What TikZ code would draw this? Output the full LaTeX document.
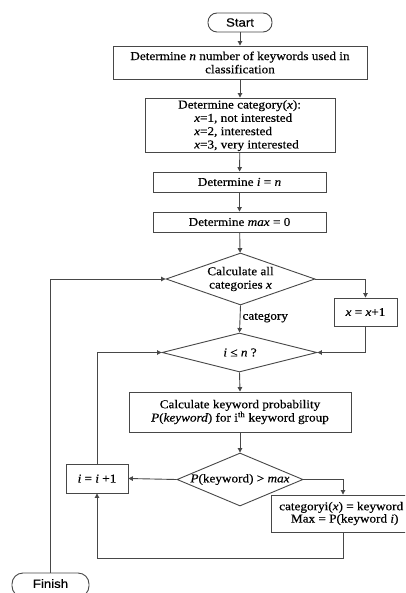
\documentclass[tikz,border=0pt]{standalone}
\usepackage{fontspec}
\setmainfont[FakeStretch=1.1,FakeBold=0.4]{Liberation Serif}
\newfontfamily\termfont[FakeStretch=1.1,FakeBold=0.4]{Liberation Sans}
\usetikzlibrary{shapes.geometric,arrows.meta}
\begin{document}
\begin{tikzpicture}[x=1pt,y=-1pt,
  font=\fontsize{12}{13.3}\selectfont,
  ln/.style={draw=black!72,line width=0.9pt},
  arr/.style={ln,-{Triangle[length=4.5pt,width=4.5pt]}},
  box/.style={ln,rectangle,inner sep=0pt,align=center},
  term/.style={ln,rectangle,rounded corners=9pt,inner sep=0pt,font=\fontsize{12}{13.3}\termfont},
  dia/.style={ln,diamond,inner sep=0pt,aspect=2.9},
  txt/.style={inner sep=0pt,align=center}]
\useasboundingbox (0,0) rectangle (405,593);
\clip (0,0) rectangle (405,593);
% nodes
\node[term,minimum width=64pt,minimum height=19pt] (start) at (240,22.5) {Start};
\node[box,minimum width=254pt,minimum height=33pt] (b1) at (240,62.5) {Determine \textit{n} number of keywords used in\\classification};
\node[box,minimum width=190pt,minimum height=54pt] (b2) at (240,125) {};
\node[txt,align=left,anchor=north west] (b2t) at (178,100) {Determine category(\textit{x}):\\\hspace*{16pt}\textit{x}=1, not interested\\\hspace*{16pt}\textit{x}=2, interested\\\hspace*{16pt}\textit{x}=3, very interested};
\node[box,minimum width=173pt,minimum height=20pt] (b3) at (239.5,182) {Determine \textit{i} = \textit{n}};
\node[box,minimum width=173pt,minimum height=20pt] (b4) at (239.5,222) {Determine \textit{max} = 0};
\node[dia,minimum width=149pt,minimum height=52pt] (d1) at (240.5,279) {};
\node[txt] (d1t) at (240.5,279) {Calculate all\\categories \textit{x}};
\node[box,minimum width=63pt,minimum height=28pt] (xb) at (365.5,312) {\textit{x} = \textit{x}+1};
\node[dia,minimum width=155pt,minimum height=39pt] (d2) at (239.5,352.5) {};
\node[txt] (d2t) at (240,352.5) {\textit{i} ≤ \textit{n} ?};
\node[box,minimum width=222pt,minimum height=40pt] (b5) at (240,412) {Calculate keyword probability\\\textit{P}(\textit{keyword}) for i\textsuperscript{th} keyword group};
\node[dia,minimum width=126pt,minimum height=53pt] (d3) at (240,479.5) {};
\node[txt] (d3t) at (240,479.5) {\textit{P}(keyword) > \textit{max}};
\node[box,minimum width=62pt,minimum height=29pt] (ib) at (97,478.5) {\textit{i} = \textit{i} +1};
\node[box,minimum width=144pt,minimum height=37pt] (b6) at (343,513.5) {};
\node[txt,anchor=west] (b6t) at (279,513.5) {categoryi(\textit{x}) = keyword\\[-1pt]\hspace*{7pt}Max = P(keyword \textit{i})};
\node[term,minimum width=77pt,minimum height=24pt,rounded corners=11pt] (fin) at (50.5,585) {\raisebox{3pt}{Finish}};
% connectors
\draw[arr] (start) -- (b1);
\draw[arr] (b1) -- (b2);
\draw[arr] (b2) -- (b3);
\draw[arr] (b3) -- (b4);
\draw[arr] (b4) -- (d1);
\draw[arr] (d1.south) -- node[right,inner sep=2pt,pos=0.45] (cat) {category} (d2.north);
\draw[arr] (d1.east) -| (xb.north);
\draw[arr] (xb.south) |- (d2.east);
\draw[arr] (d2.south) -- (b5.north);
\draw[arr] (b5.south) -- (d3.north);
\draw[arr] (d3.west) -- (ib.east);
\draw[arr] (d3.east) -| (b6.north);
\draw[arr] (b6.south) -- ++(0,26) -| (ib.south);
\draw[arr] (ib.north) |- (d2.west);
\draw[arr] (fin.north) |- (d1.west);
\end{tikzpicture}
\end{document}
